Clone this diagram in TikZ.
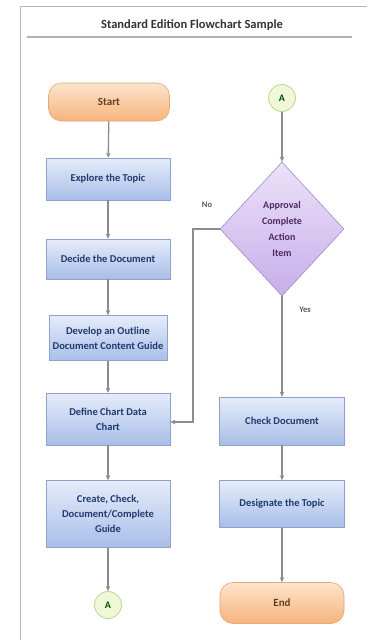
\documentclass[tikz,border=0pt]{standalone}
\usepackage{fontspec}
\setmainfont{Carlito}
\usetikzlibrary{shapes.geometric,arrows.meta,positioning}
\definecolor{frameg}{HTML}{B4B4B4}
\definecolor{lineg}{HTML}{8C8C8C}
\definecolor{txtblue}{HTML}{1F3A6E}
\definecolor{orangeb}{HTML}{E2A878}
\definecolor{orangeT}{HTML}{FDE4CC}
\definecolor{orangeB}{HTML}{F6B47C}
\definecolor{blueb}{HTML}{8FA3C8}
\definecolor{blueT}{HTML}{E6ECFA}
\definecolor{blueB}{HTML}{A8BEE8}
\definecolor{purpleb}{HTML}{A08CC8}
\definecolor{purpleT}{HTML}{ECE2F8}
\definecolor{purpleB}{HTML}{C7AEEA}
\definecolor{greenb}{HTML}{B8D88C}
\definecolor{greenF}{HTML}{F0F8D8}
\tikzset{
  term/.style={draw=orangeb, line width=0.6pt, rounded corners=13pt, top color=orangeT, bottom color=orangeB, minimum width=121pt, minimum height=38pt, font=\fontsize{11}{13}\selectfont\bfseries, text=brown!50!black},
  procbox/.style={draw=blueb, line width=0.6pt, top color=blueT, bottom color=blueB, minimum width=124pt, minimum height=44pt, inner sep=2pt, align=center, font=\fontsize{10.5}{15}\selectfont\bfseries, text=txtblue},
  decbox/.style={diamond, draw=purpleb, line width=0.6pt, top color=purpleT, bottom color=purpleB, minimum width=124pt, minimum height=134pt, inner sep=0pt, align=center, font=\fontsize{10}{16}\selectfont\bfseries, text=txtblue!70!purple},
  conn/.style={circle, draw=greenb, line width=0.8pt, fill=greenF, minimum size=27pt, inner sep=0pt, font=\fontsize{10}{12}\selectfont\bfseries, text=green!30!black},
  flow/.style={draw=lineg, line width=1.3pt, -{Stealth[length=5pt,width=4.5pt]}},
  lbl/.style={font=\fontsize{8.5}{10}\selectfont\bfseries, text=gray!70!black}
}
\begin{document}
\begin{tikzpicture}[x=1pt,y=-1pt]
\useasboundingbox (0,0) rectangle (367,640);
\fill[white] (0,0) rectangle (367,640);
% frame
\draw[frameg, line width=1.6pt] (20.5,640) -- (20.5,6.5) -- (367,6.5);
% title
\node[font=\fontsize{12.5}{14}\selectfont\bfseries, text=black!80] (title) at (192,25) {Standard Edition Flowchart Sample};
\draw[gray!60, line width=1.2pt] (27,37) -- (352,37);
% left column
\node[term] (start) at (109,102) {Start};
\node[procbox, minimum height=42pt] (b1) at (108,179) {Explore the Topic};
\node[procbox, minimum height=40pt] (b2) at (108,259) {Decide the Document};
\node[procbox, minimum width=118pt, minimum height=45pt] (b3) at (108,338) {Develop an Outline\\Document Content Guide};
\node[procbox, minimum height=52pt] (b4) at (108,419) {Define Chart Data\\Chart};
\node[procbox, minimum height=67pt] (b5) at (108,514) {Create, Check,\\Document/Complete\\Guide};
\node[conn] (a1) at (108,605) {A};
% right column
\node[conn] (a2) at (282,98) {A};
\node[decbox] (dec) at (282,229) {Approval\\Complete\\Action\\Item};
\node[procbox, minimum width=125pt, minimum height=48pt] (c1) at (282,421) {Check Document};
\node[procbox, minimum width=125pt, minimum height=47pt] (c2) at (282,504) {Designate the Topic};
\node[term, minimum width=124pt, minimum height=41pt] (fin) at (282,603) {End};
% connectors
\draw[flow] (start) -- (b1);
\draw[flow] (b1) -- (b2);
\draw[flow] (b2) -- (b3);
\draw[flow] (b3) -- (b4);
\draw[flow] (b4) -- (b5);
\draw[flow] (b5) -- (a1);
\draw[flow] (a2) -- (dec);
\draw[flow] (dec.south) -- (c1.north);
\node[lbl] (yeslbl) at (305,310) {Yes};
\draw[flow] (c1) -- (c2);
\draw[flow] (c2) -- (fin);
\coordinate (k1) at (193,229);
\coordinate (k2) at (193,422);
\draw[flow] (dec.west) -- (k1) -- (k2) -- (b4.east |- k2);
\node[lbl] (nolbl) at (207,205) {No};
\end{tikzpicture}
\end{document}
